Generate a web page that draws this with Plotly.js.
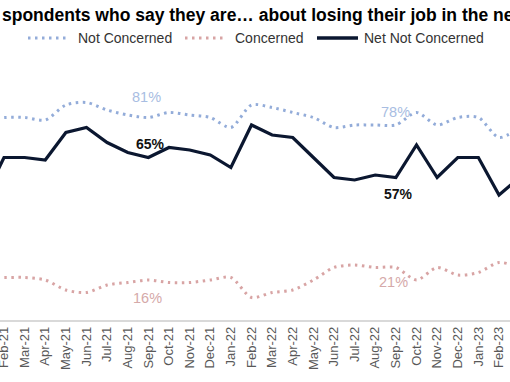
<!DOCTYPE html>
<html>
<head>
<meta charset="utf-8">
<script src="https://cdn.plot.ly/plotly-3.0.1.min.js"></script>
<style>html,body{margin:0;padding:0;background:#fff;overflow:hidden}#chart{width:510px;height:382px}</style>
</head>
<body>
<div id="chart"></div>
<script>
var months = ["Jan-21","Feb-21","Mar-21","Apr-21","May-21","Jun-21","Jul-21","Aug-21","Sep-21","Oct-21","Nov-21","Dec-21",
              "Jan-22","Feb-22","Mar-22","Apr-22","May-22","Jun-22","Jul-22","Aug-22","Sep-22","Oct-22","Nov-22","Dec-22",
              "Jan-23","Feb-23","Mar-23"];
var notConcerned = [80,81,81,80,86,87,84,82,81,83,82,81,77,86,85,83,81,77,78,78,78,83,78,81,81,73,77];
var concerned    = [17,17,17,16,12,11,14,15,16,15,15,16,17, 9,11,12,16,21,22,21,21,16,21,18,19,23,21];
var netNotConcerned = [48,65,65,64,75,77,71,67,65,69,68,66,61,78,74,73,65,57,56,58,57,70,57,65,65,50,57];
var seriesNames = ["Not Concerned", "Concerned", "Net Not Concerned"];
var labelIdx = [8, 20];
var visibleTicks = months.slice(1, 26);
var titleText = "spondents who say they are… about losing their job in the ne";

var FONT = "Liberation Sans, Arial, sans-serif";
var blue = "#93acd9", pink = "#d8a4a4", navy = "#0b1730";
var DOT = "2.5px,4.5px";

var traces = [
  {x: months, y: notConcerned, type: "scatter", mode: "lines", name: seriesNames[0],
   line: {color: blue, width: 3, dash: DOT, shape: "spline", smoothing: 0.8}},
  {x: months, y: concerned, type: "scatter", mode: "lines", name: seriesNames[1],
   line: {color: pink, width: 3, dash: DOT, shape: "spline", smoothing: 0.8}},
  {x: months, y: netNotConcerned, type: "scatter", mode: "lines", name: seriesNames[2],
   line: {color: navy, width: 3.2}}
];

var ann = [];
var ncShift = [21, 13], cShift = [-18, -14], netShift = [14, -16];
labelIdx.forEach(function (i, k) {
  ann.push({x: months[i], y: notConcerned[i], xref: "x", yref: "y", text: notConcerned[i] + "%",
    showarrow: false, yshift: ncShift[k], xshift: [-2, 0][k], font: {family: FONT, size: 14.5, color: "#a8bde2"}});
  ann.push({x: months[i], y: concerned[i], xref: "x", yref: "y", text: concerned[i] + "%",
    showarrow: false, yshift: cShift[k], xshift: [-1, -2][k], font: {family: FONT, size: 14.5, color: "#d5a9a9"}});
  ann.push({x: months[i], y: netNotConcerned[i], xref: "x", yref: "y", text: netNotConcerned[i] + "%",
    showarrow: false, yshift: netShift[k], xshift: [2, 3][k], font: {family: FONT, size: 14, color: "#111", weight: "bold"}});
});
ann.push({xref: "paper", yref: "paper", x: 0, y: 1.22, xanchor: "left", yanchor: "middle", showarrow: false,
  text: titleText, font: {family: FONT, size: 17.5, color: "#000", weight: "bold"}});

// manual legend (positions in paper coords; plot width 510px, plot height 250px)
var legY = 1.128;
var legSamples = [[28, 68], [185, 225], [317, 358]];
var legTextX = [76, 233, 362];
var legStyles = [
  {color: blue, width: 3, dash: DOT},
  {color: pink, width: 3, dash: DOT},
  {color: navy, width: 3.6, dash: "solid"}
];
var shapes = [];
seriesNames.forEach(function (n, k) {
  shapes.push({type: "line", xref: "paper", yref: "paper", x0: legSamples[k][0] / 510, x1: legSamples[k][1] / 510,
    y0: legY, y1: legY, line: legStyles[k]});
  ann.push({xref: "paper", yref: "paper", x: legTextX[k] / 510, y: legY, xanchor: "left", yanchor: "middle",
    showarrow: false, text: n, font: {family: FONT, size: 14, color: "#333"}});
});

var layout = {
  width: 510, height: 382,
  margin: {l: 0, r: 0, t: 70, b: 62},
  paper_bgcolor: "#fff", plot_bgcolor: "#fff",
  showlegend: false,
  xaxis: {type: "category", range: [0.806, 25.533], tickmode: "array", tickvals: visibleTicks, ticktext: visibleTicks,
    tickangle: -90, showline: true, linecolor: "#d9d9d9", linewidth: 1.5, showgrid: false, zeroline: false,
    ticks: "", tickfont: {family: FONT, size: 13, color: "#595959"}, fixedrange: true},
  yaxis: {range: [0, 100], visible: false, showgrid: false, zeroline: false, fixedrange: true},
  annotations: ann,
  shapes: shapes
};

Plotly.newPlot("chart", traces, layout, {displayModeBar: false, staticPlot: true});
</script>
</body>
</html>
